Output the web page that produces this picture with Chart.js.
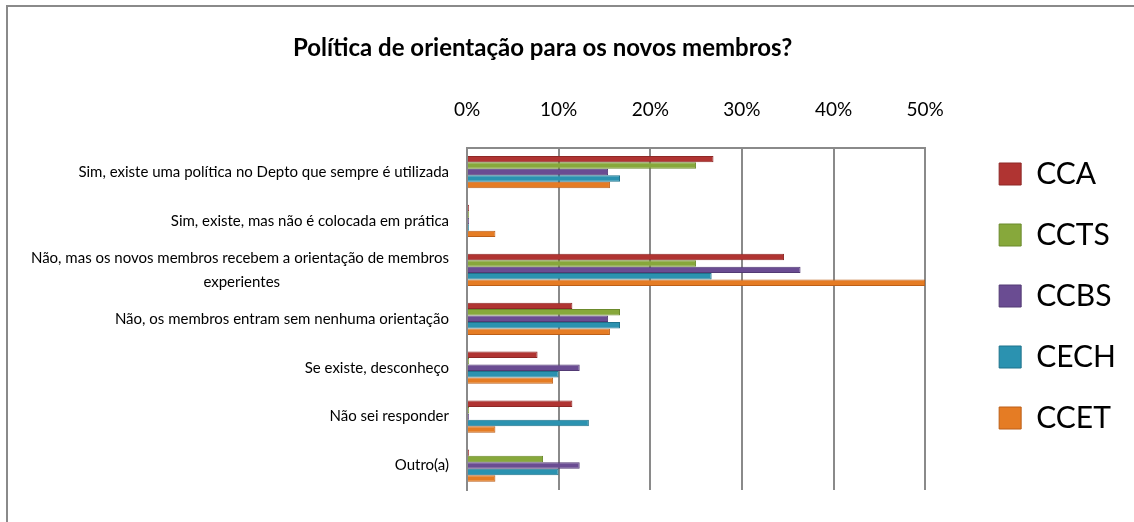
<!DOCTYPE html>
<html>
<head>
<meta charset="utf-8">
<script src="https://cdn.jsdelivr.net/npm/chart.js@4"></script>
<style>
  body { margin: 0; background: #fff; }
  #wrap { position: relative; width: 1134px; height: 522px; }
  #frame { position: absolute; left: 6px; top: 5px; right: 0; bottom: 0;
    border-left: 2px solid #8a8a8a; border-top: 2px solid #8a8a8a; pointer-events: none; }
</style>
</head>
<body>
<div id="wrap">
  <canvas id="viewCanvas" width="1134" height="522"></canvas>
  <div id="frame"></div>
</div>
<script>
const categories = [
  'Sim, existe uma política no Depto que sempre é utilizada',
  'Sim, existe, mas não é colocada em prática',
  ['Não, mas os novos membros recebem a orientação de membros', 'experientes' + '\u00a0'.repeat(44)],
  'Não, os membros entram sem nenhuma orientação',
  'Se existe, desconheço',
  'Não sei responder',
  'Outro(a)'
];
const seriesNames = ['CCA', 'CCTS', 'CCBS', 'CECH', 'CCET'];
const cca  = [26.9, 0, 34.6, 11.5, 7.7, 11.5, 0];
const ccts = [25, 0, 25, 16.7, 0, 0, 8.3];
const ccbs = [15.4, 0, 36.4, 15.4, 12.3, 0, 12.3];
const cech = [16.7, 0, 26.7, 16.7, 10, 13.3, 10];
const ccet = [15.6, 3.1, 50, 15.6, 9.4, 3.1, 3.1];
const xTicks = [0, 10, 20, 30, 40, 50];

Chart.defaults.font.family = 'Lato';
Chart.defaults.color = '#000';

const fills   = ['#B03432', '#87A83B', '#6A4C92', '#2B92B0', '#E57C24'];
const borders = ['#8E2826', '#6B8A2C', '#523A74', '#1F738C', '#BC5F18'];
const values  = [cca, ccts, ccbs, cech, ccet];

const data = {
  labels: categories,
  datasets: seriesNames.map((name, i) => ({
    label: name,
    data: values[i],
    backgroundColor: fills[i],
    borderColor: borders[i],
    borderWidth: 1,
    minBarLength: 2,
    categoryPercentage: 0.66,
    barPercentage: 1
  }))
};

new Chart(document.getElementById('viewCanvas'), {
  type: 'bar',
  data: data,
  options: {
    indexAxis: 'y',
    responsive: false,
    animation: false,
    layout: { padding: { left: 0, right: 8, top: 0, bottom: 32 } },
    scales: {
      x: {
        position: 'top',
        min: 0,
        max: 50,
        afterBuildTicks: (scale) => { scale.ticks = xTicks.map(v => ({ value: v })); },
        ticks: { callback: (v) => v + '%', font: { size: 19 }, padding: 26 },
        grid: { color: '#8a8a8a', lineWidth: 2, drawTicks: false },
        border: { display: true, color: '#8a8a8a', width: 2 }
      },
      y: {
        grid: { display: false },
        border: { display: true, color: '#8a8a8a', width: 2 },
        ticks: { font: { size: 15, lineHeight: 1.6 }, padding: 10, autoSkip: false },
        afterFit: (scale) => { scale.width = 467; }
      },
      y2: {
        type: 'category',
        labels: categories,
        position: 'right',
        grid: { display: false },
        border: { display: false },
        ticks: { display: false },
        afterFit: (scale) => { scale.width = 43; }
      }
    },
    plugins: {
      title: {
        display: true,
        text: 'Política de orientação para os novos membros?' + '\u00a0'.repeat(7),
        font: { size: 24, weight: 'bold' },
        color: '#000',
        padding: { top: 34, bottom: 10 }
      },
      legend: {
        position: 'right',
        align: 'start',
        title: { display: true, text: '', font: { size: 10, lineHeight: 1 }, padding: { top: 118, bottom: 0 } },
        labels: { boxWidth: 22, boxHeight: 22, padding: 31, font: { size: 30 }, color: '#000' }
      },
      tooltip: { enabled: false }
    }
  }
});
</script>
</body>
</html>
